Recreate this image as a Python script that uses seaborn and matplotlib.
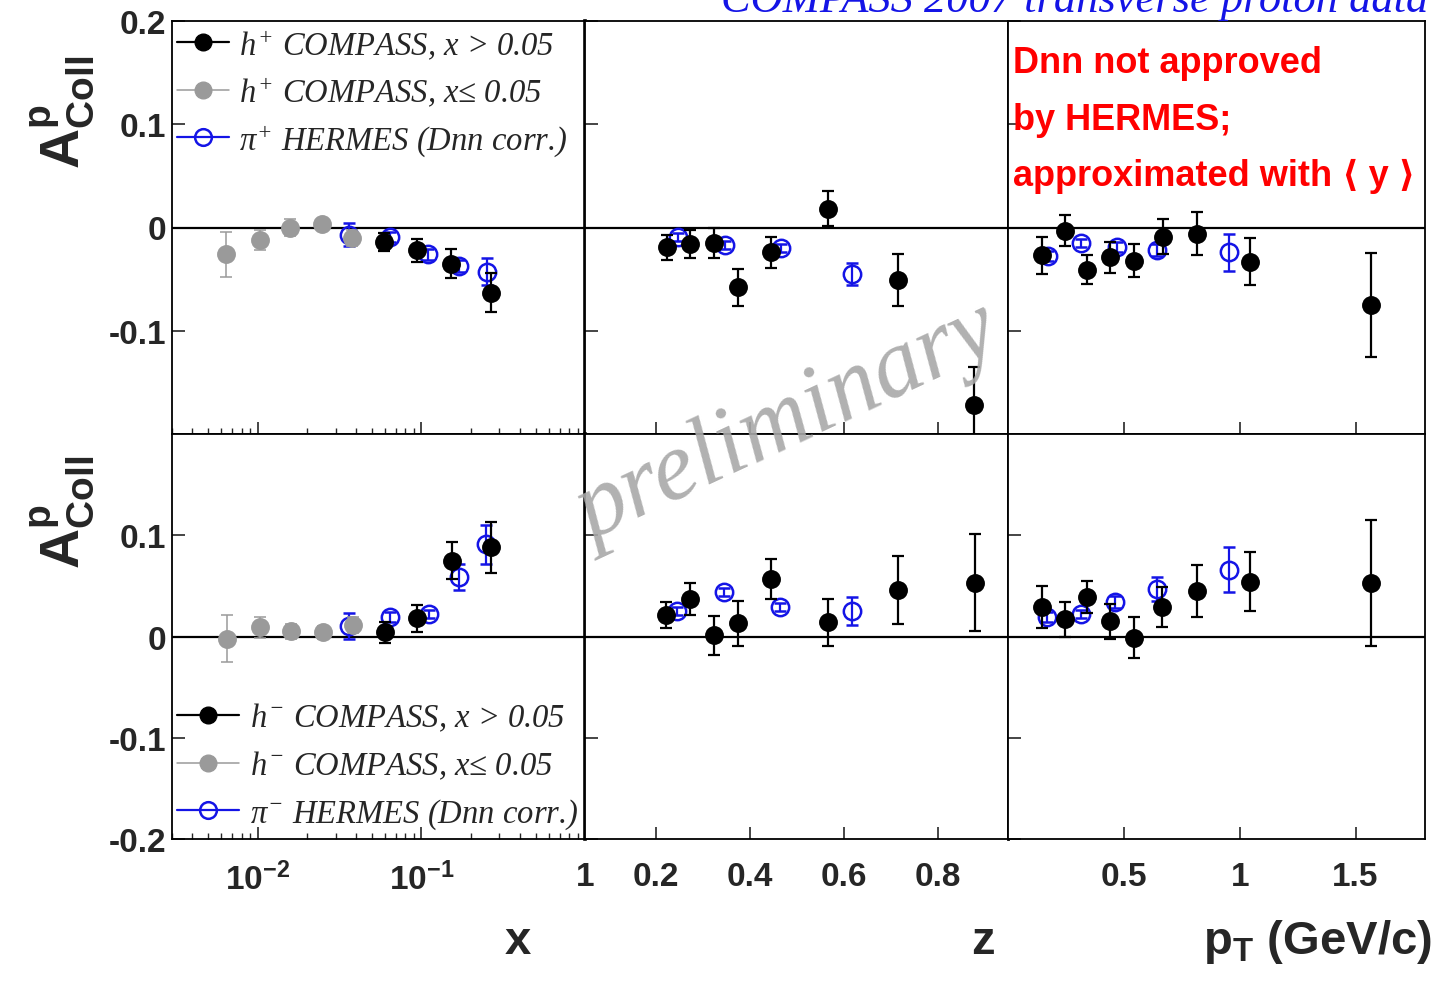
import matplotlib
matplotlib.use("Agg")
import matplotlib.pyplot as plt
import seaborn as sns
from matplotlib.lines import Line2D
from matplotlib.ticker import LogLocator, NullFormatter

# ---- values ----
# x panels (log scale)
xpos_gray_x = [0.0064, 0.0104, 0.0158, 0.0247, 0.0377]
xpos_gray_a = [-0.026, -0.012, 0.000, 0.003, -0.010]
xpos_gray_e = [0.022, 0.010, 0.008, 0.005, 0.008]
xpos_blk_x = [0.0592, 0.094, 0.152, 0.267]
xpos_blk_a = [-0.014, -0.022, -0.035, -0.063]
xpos_blk_e = [0.009, 0.011, 0.014, 0.019]
xpos_blue_x = [0.0362, 0.0644, 0.110, 0.170, 0.252]
xpos_blue_a = [-0.007, -0.009, -0.026, -0.037, -0.043]
xpos_blue_e = [0.011, 0.005, 0.005, 0.006, 0.013]

xneg_gray_x = [0.0065, 0.0104, 0.0159, 0.025, 0.038]
xneg_gray_a = [-0.002, 0.009, 0.005, 0.004, 0.011]
xneg_gray_e = [0.023, 0.010, 0.007, 0.006, 0.008]
xneg_blk_x = [0.0598, 0.0945, 0.153, 0.267]
xneg_blk_a = [0.004, 0.018, 0.075, 0.088]
xneg_blk_e = [0.010, 0.0135, 0.018, 0.025]
xneg_blue_x = [0.0362, 0.0645, 0.111, 0.169, 0.248]
xneg_blue_a = [0.0105, 0.019, 0.022, 0.059, 0.091]
xneg_blue_e = [0.013, 0.005, 0.004, 0.013, 0.019]

# z panels
zpos_blk_x = [0.225, 0.274, 0.324, 0.375, 0.446, 0.567, 0.717, 0.877]
zpos_blk_a = [-0.019, -0.016, -0.015, -0.058, -0.024, 0.018, -0.051, -0.172]
zpos_blk_e = [0.012, 0.014, 0.015, 0.018, 0.015, 0.017, 0.025, 0.037]
zpos_blue_x = [0.248, 0.347, 0.468, 0.618]
zpos_blue_a = [-0.009, -0.017, -0.020, -0.045]
zpos_blue_e = [0.004, 0.004, 0.004, 0.011]

zneg_blk_x = [0.223, 0.274, 0.3245, 0.375, 0.446, 0.566, 0.717, 0.880]
zneg_blk_a = [0.021, 0.037, 0.001, 0.013, 0.057, 0.014, 0.046, 0.053]
zneg_blk_e = [0.013, 0.016, 0.019, 0.022, 0.020, 0.023, 0.034, 0.048]
zneg_blue_x = [0.246, 0.345, 0.465, 0.618]
zneg_blue_a = [0.025, 0.044, 0.029, 0.025]
zneg_blue_e = [0.004, 0.004, 0.004, 0.014]

# pT panels
ppos_blk_x = [0.145, 0.246, 0.343, 0.442, 0.543, 0.667, 0.816, 1.043, 1.565]
ppos_blk_a = [-0.027, -0.003, -0.041, -0.029, -0.032, -0.009, -0.006, -0.033, -0.075]
ppos_blk_e = [0.018, 0.015, 0.014, 0.015, 0.016, 0.017, 0.021, 0.023, 0.050]
ppos_blue_x = [0.174, 0.316, 0.471, 0.645, 0.954]
ppos_blue_a = [-0.0275, -0.015, -0.019, -0.022, -0.024]
ppos_blue_e = [0.005, 0.004, 0.005, 0.006, 0.018]

pneg_blk_x = [0.145, 0.246, 0.343, 0.442, 0.543, 0.664, 0.816, 1.043, 1.565]
pneg_blk_a = [0.029, 0.017, 0.039, 0.015, -0.001, 0.029, 0.045, 0.054, 0.053]
pneg_blk_e = [0.021, 0.017, 0.016, 0.017, 0.020, 0.020, 0.026, 0.029, 0.062]
pneg_blue_x = [0.167, 0.316, 0.464, 0.645, 0.952]
pneg_blue_a = [0.019, 0.022, 0.034, 0.047, 0.066]
pneg_blue_e = [0.005, 0.004, 0.006, 0.012, 0.022]

GRAY = '#9a9a9a'
BLUE = '#1414e6'

sns.set_style("ticks")
plt.rcParams['font.family'] = ['Liberation Sans', 'DejaVu Sans']
plt.rcParams['mathtext.fontset'] = 'custom'
plt.rcParams['mathtext.rm'] = 'Liberation Serif:italic'
plt.rcParams['mathtext.it'] = 'Liberation Serif:italic'
plt.rcParams['mathtext.bf'] = 'Liberation Sans:bold'


def filled(ax, x, a, e, color, lw=1.6):
    ax.errorbar(x, a, yerr=e, fmt='none', ecolor=color, elinewidth=lw,
                capsize=4, capthick=lw, zorder=3)
    sns.scatterplot(x=x, y=a, ax=ax, color=color, s=185, edgecolor=color,
                    linewidth=0, zorder=4, legend=False)


def hollow(ax, x, a, e):
    ax.errorbar(x, a, yerr=e, fmt='o', color=BLUE, ms=12.5, mfc='none', mec=BLUE,
                mew=1.8, elinewidth=1.6, capsize=4, capthick=1.6, zorder=2)


fig = plt.figure(figsize=(14.41, 9.87), dpi=100)
gs = fig.add_gridspec(2, 3, left=172/1441, right=1425/1441, top=1-22/987, bottom=1-840/987,
                      width_ratios=[413, 423, 417], height_ratios=[413, 405],
                      wspace=0, hspace=0)
axes = [[fig.add_subplot(gs[r, c]) for c in range(3)] for r in range(2)]

# top row: positive hadrons
hollow(axes[0][0], xpos_blue_x, xpos_blue_a, xpos_blue_e)
filled(axes[0][0], xpos_gray_x, xpos_gray_a, xpos_gray_e, GRAY, lw=1.1)
filled(axes[0][0], xpos_blk_x, xpos_blk_a, xpos_blk_e, 'black')
hollow(axes[0][1], zpos_blue_x, zpos_blue_a, zpos_blue_e)
filled(axes[0][1], zpos_blk_x, zpos_blk_a, zpos_blk_e, 'black')
hollow(axes[0][2], ppos_blue_x, ppos_blue_a, ppos_blue_e)
filled(axes[0][2], ppos_blk_x, ppos_blk_a, ppos_blk_e, 'black')

# bottom row: negative hadrons
hollow(axes[1][0], xneg_blue_x, xneg_blue_a, xneg_blue_e)
filled(axes[1][0], xneg_gray_x, xneg_gray_a, xneg_gray_e, GRAY, lw=1.1)
filled(axes[1][0], xneg_blk_x, xneg_blk_a, xneg_blk_e, 'black')
hollow(axes[1][1], zneg_blue_x, zneg_blue_a, zneg_blue_e)
filled(axes[1][1], zneg_blk_x, zneg_blk_a, zneg_blk_e, 'black')
hollow(axes[1][2], pneg_blue_x, pneg_blue_a, pneg_blue_e)
filled(axes[1][2], pneg_blk_x, pneg_blk_a, pneg_blk_e, 'black')

xlims = [(0.003, 1.0), (0.05, 0.95), (0.0, 1.8)]
for r in range(2):
    for c in range(3):
        ax = axes[r][c]
        ax.axhline(0, color='black', lw=1.6, zorder=1)
        ax.set_ylim(-0.2, 0.2)
        ax.set_xlabel('')
        ax.set_ylabel('')
        for s in ax.spines.values():
            s.set_linewidth(1.3)
            s.set_color('black')
        if c == 0:
            ax.set_xscale('log')
            ax.set_xticks([0.01, 0.1, 1])
            ax.set_xticklabels([r'$\mathbf{10^{-2}}$', r'$\mathbf{10^{-1}}$', r'$\mathbf{1}$'])
            ax.xaxis.set_minor_locator(LogLocator(base=10, subs=range(2, 10)))
            ax.xaxis.set_minor_formatter(NullFormatter())
            ax.spines['right'].set_linewidth(2.6)
        elif c == 1:
            ax.set_xticks([0.2, 0.4, 0.6, 0.8])
            ax.set_xticklabels(['0.2', '0.4', '0.6', '0.8'])
            ax.spines['right'].set_linewidth(2.0)
        else:
            ax.set_xticks([0.5, 1.0, 1.5])
            ax.set_xticklabels(['0.5', '1', '1.5'])
        ax.set_xlim(*xlims[c])
        if r == 0:
            ax.set_yticks([-0.1, 0, 0.1, 0.2])
            ax.set_yticklabels(['-0.1', '0', '0.1', '0.2'])
        else:
            ax.set_yticks([-0.2, -0.1, 0, 0.1])
            ax.set_yticklabels(['-0.2', '-0.1', '0', '0.1'])
        ax.tick_params(which='major', direction='in', length=9, width=1.2,
                       top=False, right=False, labelsize=24, pad=4)
        ax.tick_params(which='minor', direction='in', length=4, width=1.0,
                       top=False, right=False)
        ax.tick_params(axis='x', which='major', pad=16)
        ax.tick_params(labelbottom=(r == 1), labelleft=(c == 0))
        for lab in ax.get_xticklabels() + ax.get_yticklabels():
            lab.set_fontweight('bold')

# legends
def handles():
    return [
        Line2D([], [], color='black', lw=1.6, marker='o', ms=12),
        Line2D([], [], color=GRAY, lw=1.1, marker='o', ms=12),
        Line2D([], [], color=BLUE, lw=1.6, marker='o', ms=12, mfc='none', mew=1.8),
    ]

leg_font = dict(family=['Liberation Serif', 'DejaVu Serif'], style='italic', size=23.5)
labels_pos = [r'$h^{+}$ COMPASS, $x$ > 0.05', r'$h^{+}$ COMPASS, $x$≤ 0.05',
              r'$\pi^{+}$ HERMES (Dnn corr.)']
labels_neg = [r'$h^{-}$ COMPASS, $x$ > 0.05', r'$h^{-}$ COMPASS, $x$≤ 0.05',
              r'$\pi^{-}$ HERMES (Dnn corr.)']
axes[0][0].legend(handles(), labels_pos, loc='upper left', bbox_to_anchor=(0.012, 0.985),
                  frameon=False, prop=leg_font, handlelength=1.6, handletextpad=0.3,
                  labelspacing=0.42, borderpad=0, borderaxespad=0)
axes[1][0].legend(handles(), labels_neg, loc='lower left', bbox_to_anchor=(0.012, 0.02),
                  frameon=False, prop=leg_font, handlelength=1.9, handletextpad=0.35,
                  labelspacing=0.47, borderpad=0, borderaxespad=0)

axes[0][2].text(0.012, 0.942, 'Dnn not approved\nby HERMES;\napproximated with ⟨ y ⟩',
                transform=axes[0][2].transAxes, ha='left', va='top', color='#ff0000',
                fontsize=26, fontweight='bold', linespacing=1.8)

# axis titles
ylab = r'$\mathbf{A^{p}_{Coll}}$'
fig.text(62/1441, 1-112/987, ylab, rotation=90, ha='center', va='center', fontsize=40)
fig.text(62/1441, 1-512/987, ylab, rotation=90, ha='center', va='center', fontsize=40)
fig.text(518/1441, 1-942/987, 'x', ha='center', va='center', fontsize=34, fontweight='bold')
fig.text(983/1441, 1-942/987, 'z', ha='center', va='center', fontsize=34, fontweight='bold')
fig.text(1432/1441, 1-942/987, r'$\mathbf{p_{T}}$ (GeV/c)', ha='right', va='center',
         fontsize=34, fontweight='bold')

# banner at the top edge, partly off the canvas as in the original
fig.text(1428/1441, 1-12/987, 'COMPASS 2007 transverse proton data', ha='right',
         va='baseline', color=BLUE, fontsize=32, style='italic',
         family=['Liberation Serif', 'DejaVu Serif'])

fig.text(788/1441, 1-425/987, 'preliminary', rotation=25, ha='center', va='center',
         fontsize=70, style='italic', color='#a8a8a8', alpha=0.9,
         family=['Liberation Serif', 'DejaVu Serif'], zorder=10)

fig.savefig('out.png', dpi=100)
